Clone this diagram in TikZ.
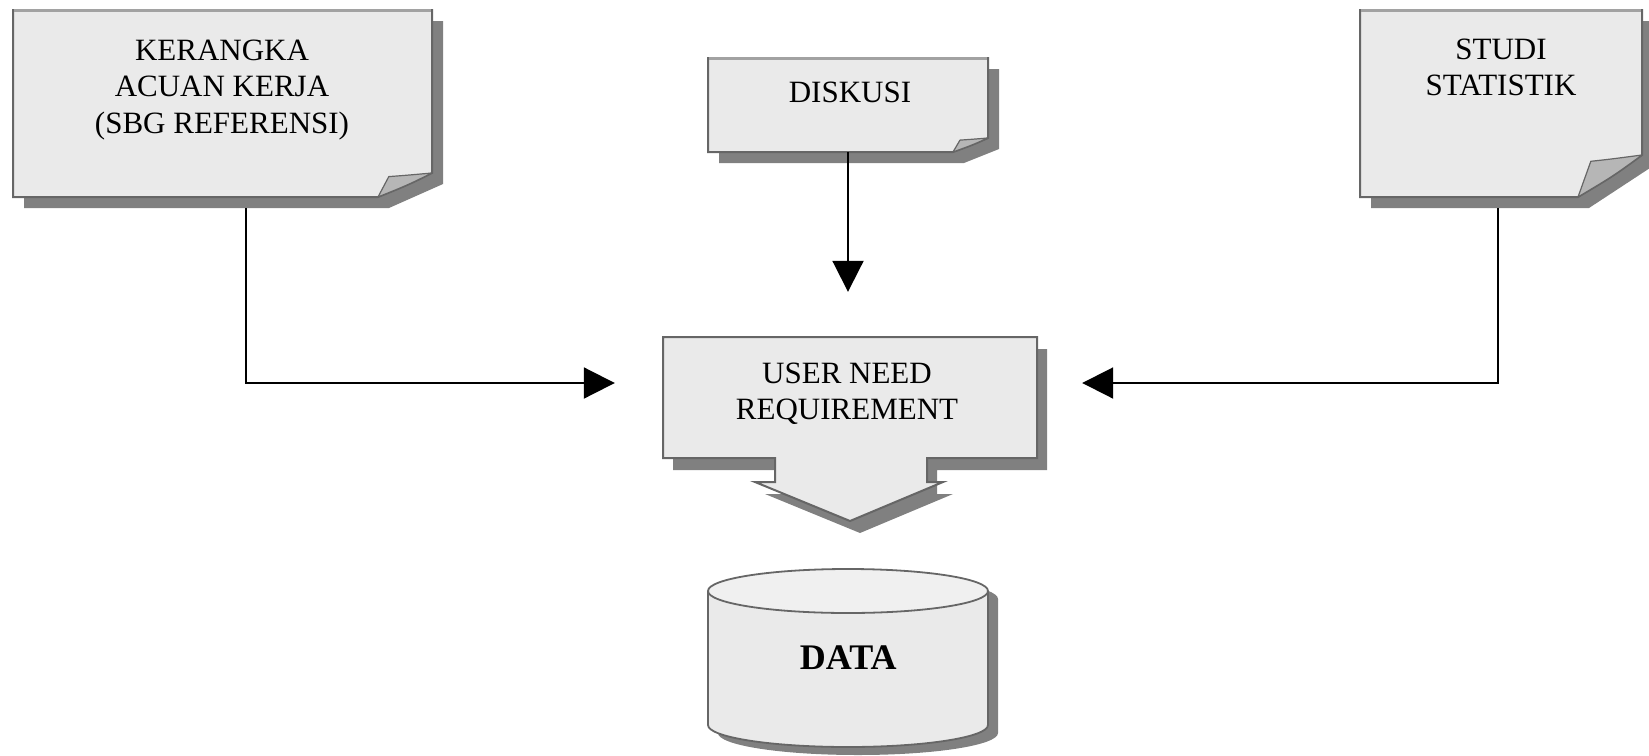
\documentclass[tikz,border=0pt]{standalone}
\usepackage{fontspec}
\setmainfont{Liberation Serif}
\usetikzlibrary{arrows.meta,calc}

\definecolor{paperfill}{HTML}{EAEAEA}
\definecolor{shadowgray}{HTML}{808080}
\definecolor{edgegray}{HTML}{666666}
\definecolor{topgray}{HTML}{A2A2A2}
\definecolor{flapgray}{HTML}{B6B6B6}
\definecolor{cyltop}{HTML}{F0F0F0}

% Sheet of paper with a curled lower right corner and a drop shadow.
% #1,#2 = upper left, #3,#4 = lower right, #5,#6 = width and height of the curl
\newcommand{\papersheet}[6]{%
  \begin{scope}[shift={(11,11)}]
    \fill[shadowgray] (#1,#2) -- (#3,#2) -- (#3,#4-#6) -- (#3-#5,#4) -- (#1,#4) -- cycle;
  \end{scope}
  \filldraw[fill=paperfill, draw=edgegray, line width=2pt, line join=miter]
    (#1,#2) -- (#3,#2) -- (#3,#4-#6)
    .. controls (#3-0.45*#5,#4-0.5*#6) .. (#3-#5,#4) -- (#1,#4) -- cycle;
  \draw[topgray, line width=3pt] (#1+1,#2+0.5) -- (#3-1,#2+0.5);
  \filldraw[fill=flapgray, draw=edgegray, line width=1.2pt, line join=round]
    (#3-#5,#4) -- (#3-0.8*#5,#4-0.85*#6)
    .. controls (#3-0.5*#5,#4-0.9*#6) .. (#3,#4-#6)
    .. controls (#3-0.45*#5,#4-0.5*#6) .. (#3-#5,#4) -- cycle;
}

\tikzset{
  frame/.style={rectangle, draw=none, inner sep=0pt},
  boxtext/.style={align=center, inner sep=0pt, font=\fontsize{31}{36.5}\selectfont},
  conn/.style={line width=2pt, black, -{Triangle[length=31pt,width=31pt]}},
}

\begin{document}
\begin{tikzpicture}[x=1pt, y=-1pt]
\useasboundingbox (0,0) rectangle (1649,755);

% source documents
\papersheet{13}{10}{432}{197}{54}{24}
\papersheet{708}{58}{988}{152}{35}{14}
\papersheet{1360}{10}{1642}{197}{64}{42}

\node[frame, minimum width=419pt, minimum height=187pt] (kak) at (222.5,103.5) {};
\node[frame, minimum width=280pt, minimum height=94pt] (dis) at (848,105) {};
\node[frame, minimum width=282pt, minimum height=187pt] (sts) at (1501,103.5) {};

\node[boxtext] (kaktext) at (222,89.6) {KERANGKA\\ACUAN KERJA\\(SBG REFERENSI)};
\node[boxtext] (distext) at (850,92.5) {DISKUSI};
\node[boxtext] (ststext) at (1501,67.5) {STUDI\\STATISTIK};

% requirement block with its downward arrow
\begin{scope}[shift={(10,12)}]
  \fill[shadowgray] (663,337) -- (1037,337) -- (1037,458) -- (927,458) -- (927,482)
    -- (943,482) -- (850,521) -- (755,482) -- (775,482) -- (775,458) -- (663,458) -- cycle;
\end{scope}
\filldraw[fill=paperfill, draw=edgegray, line width=2pt, line join=miter]
  (663,337) -- (1037,337) -- (1037,458) -- (927,458) -- (927,482)
  -- (943,482) -- (850,521) -- (755,482) -- (775,482) -- (775,458) -- (663,458) -- cycle;
\node[frame, minimum width=374pt, minimum height=121pt] (unr) at (850,397.5) {};
\node[boxtext] (unrtext) at (847,393.6) {USER NEED\\REQUIREMENT};

% data store
\begin{scope}[shift={(10,8)}]
  \fill[shadowgray] (708,591) -- (708,725) .. controls (708,737.15) and (770.68,747) .. (848,747)
    .. controls (925.32,747) and (988,737.15) .. (988,725) -- (988,591) -- cycle;
  \fill[shadowgray] (848,591) ellipse [x radius=140pt, y radius=22pt];
\end{scope}
\filldraw[fill=paperfill, draw=edgegray, line width=1.8pt]
  (708,591) -- (708,725) .. controls (708,737.15) and (770.68,747) .. (848,747)
  .. controls (925.32,747) and (988,737.15) .. (988,725) -- (988,591);
\filldraw[fill=cyltop, draw=edgegray, line width=1.8pt] (848,591) ellipse [x radius=140pt, y radius=22pt];
\node[frame, minimum width=280pt, minimum height=178pt] (data) at (848,658) {};
\node[inner sep=0pt, font=\fontsize{36}{40}\selectfont\bfseries] (datatext) at (848.3,657.5) {DATA};

% flows into the requirement block
\draw[conn] ([xshift=23.5pt,yshift=-11pt]kak.south) |- ([xshift=-48pt,yshift=14.5pt]unr.west);
\draw[conn] (dis.south) -- ($(dis.south |- unr.north)+(0,-45)$);
\draw[conn] ([xshift=-3pt,yshift=-11pt]sts.south) |- ([xshift=45pt,yshift=14.5pt]unr.east);
\end{tikzpicture}
\end{document}
